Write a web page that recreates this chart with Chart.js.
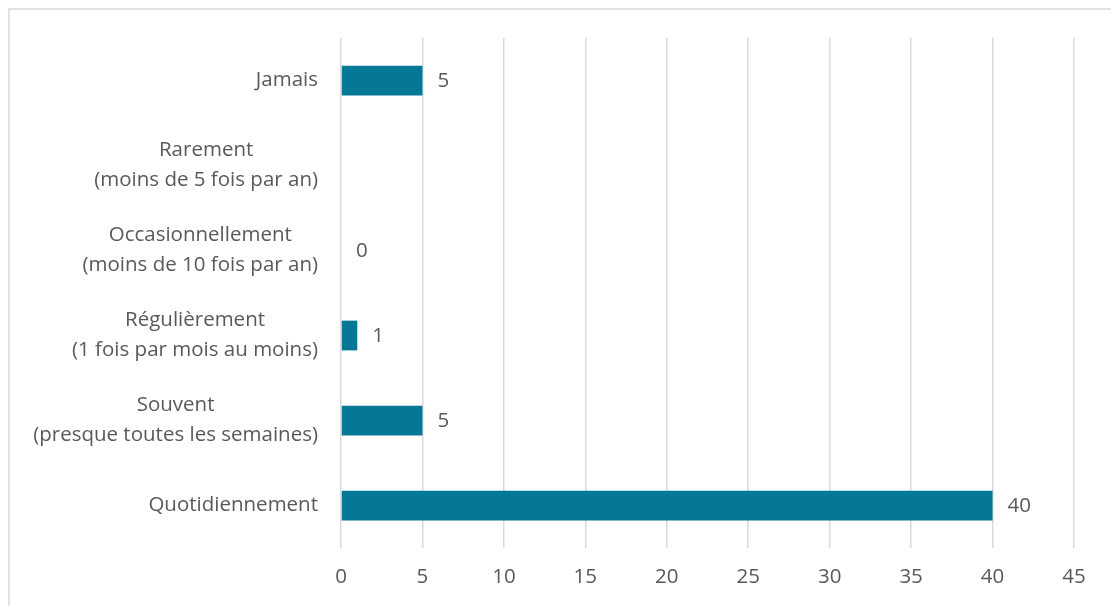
<!DOCTYPE html>
<html>
<head>
<meta charset="utf-8">
<script src="https://cdn.jsdelivr.net/npm/chart.js@4.4.0/dist/chart.umd.min.js"></script>
<style>
  html, body { margin: 0; padding: 0; background: #fff; }
  canvas { display: block; }
</style>
</head>
<body>
<canvas id="chart" width="1111" height="606"></canvas>
<script>
// Categories, top to bottom
var categories = [
    ["Jamais"],
    ["Rarement", "(moins de 5 fois par an)"],
    ["Occasionnellement", "(moins de 10 fois par an)"],
    ["Régulièrement", "(1 fois par mois au moins)"],
    ["Souvent", "(presque toutes les semaines)"],
    ["Quotidiennement"]
];
// Rarement has no value shown in the chart
var values = [5, null, 0, 1, 5, 40];
var xTicks = [0, 5, 10, 15, 20, 25, 30, 35, 40, 45];

var textColor = '#595959';
var fontFamily = "'Open Sans', sans-serif";
var fontSize = 20.5;

// light frame around the whole chart
var framePlugin = {
    id: 'frame',
    beforeDraw: function(chart) {
        var c = chart.ctx;
        c.save();
        c.strokeStyle = '#d9d9d9';
        c.lineWidth = 1.5;
        c.strokeRect(9, 9, 1300, 800);
        c.restore();
    }
};

// category labels: block right-aligned, lines centred inside the block
var yLabelPlugin = {
    id: 'yLabels',
    afterDraw: function(chart) {
        var c = chart.ctx;
        var yScale = chart.scales.y;
        var right = chart.chartArea.left - 23;
        var lineH = 30;
        c.save();
        c.font = fontSize + 'px ' + fontFamily;
        c.fillStyle = textColor;
        c.textAlign = 'center';
        c.textBaseline = 'middle';
        categories.forEach(function(lines, i) {
            var y = yScale.getPixelForTick(i);
            var maxW = 0;
            lines.forEach(function(l) { maxW = Math.max(maxW, c.measureText(l).width); });
            var cx = right - maxW / 2;
            var y0 = y - (lines.length - 1) * lineH / 2;
            lines.forEach(function(l, k) {
                c.fillText(l, cx, y0 + k * lineH);
            });
        });
        c.restore();
    }
};

// value labels right of each bar
var valueLabelPlugin = {
    id: 'valueLabels',
    afterDatasetsDraw: function(chart) {
        var c = chart.ctx;
        var meta = chart.getDatasetMeta(0);
        c.save();
        c.font = fontSize + 'px ' + fontFamily;
        c.fillStyle = textColor;
        c.textAlign = 'left';
        c.textBaseline = 'middle';
        meta.data.forEach(function(bar, i) {
            if (values[i] === null) return;
            c.fillText(String(values[i]), bar.x + 15, bar.y + 1);
        });
        c.restore();
    }
};

new Chart(document.getElementById('chart').getContext('2d'), {
    type: 'bar',
    data: {
        labels: categories,
        datasets: [{
            data: values,
            backgroundColor: '#047896',
            borderWidth: 0,
            categoryPercentage: 1,
            barPercentage: 0.35
        }]
    },
    options: {
        indexAxis: 'y',
        responsive: false,
        animation: false,
        events: [],
        layout: { padding: { left: 0, top: 38, right: 37, bottom: 0 } },
        plugins: {
            legend: { display: false },
            tooltip: { enabled: false }
        },
        scales: {
            x: {
                min: 0,
                max: 45,
                afterBuildTicks: function(scale) {
                    scale.ticks = xTicks.map(function(v) { return { value: v }; });
                },
                afterFit: function(scale) { scale.height = 58; },
                border: { display: false },
                grid: { color: '#d9d9d9', lineWidth: 1.5, drawTicks: false },
                ticks: {
                    color: textColor,
                    padding: 17,
                    font: { family: fontFamily, size: fontSize }
                }
            },
            y: {
                afterFit: function(scale) { scale.width = 341; },
                border: { display: false },
                grid: { display: false },
                ticks: { display: false }
            }
        }
    },
    plugins: [framePlugin, yLabelPlugin, valueLabelPlugin]
});
</script>
</body>
</html>
